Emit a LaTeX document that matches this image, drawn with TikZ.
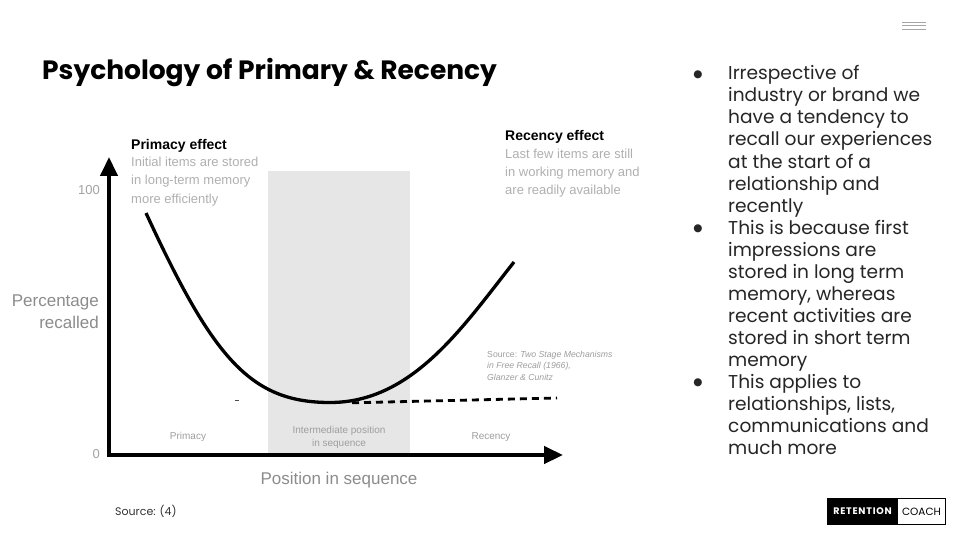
\documentclass[tikz,border=0pt]{standalone}
\usepackage{fontspec}
\setmainfont{Poppins}
\newfontfamily\arialf{Liberation Sans}
\newfontfamily\dejavu{DejaVu Sans}
\usetikzlibrary{arrows.meta}
\definecolor{lightgraytxt}{HTML}{B0B0B0}
\definecolor{midgraytxt}{HTML}{8C8C8C}
\definecolor{bandgray}{HTML}{E6E6E6}
\tikzset{
  title/.style={anchor=base west,inner sep=0pt,font=\fontsize{26.5}{30}\bfseries\selectfont},
  bline/.style={anchor=base west,inner sep=0pt,font=\fontsize{18.6}{22}\selectfont,text=black!85},
  bdot/.style={anchor=center,inner sep=0pt,font=\dejavu\fontsize{10.5}{22}\selectfont,text=black!85},
  head/.style={anchor=base west,inner sep=0pt,font=\arialf\bfseries\fontsize{14}{18}\selectfont},
  desc/.style={anchor=base west,inner sep=0pt,font=\arialf\fontsize{13}{18}\selectfont,text=lightgraytxt},
  axlab/.style={inner sep=0pt,font=\arialf\fontsize{17}{22}\selectfont,text=midgraytxt},
  ticklab/.style={anchor=base east,inner sep=0pt,font=\arialf\fontsize{13}{16}\selectfont,text=midgraytxt!80},
  zone/.style={anchor=base,inner sep=0pt,font=\arialf\fontsize{10}{13}\selectfont,text=lightgraytxt!90!black},
  srcnote/.style={anchor=base west,inner sep=0pt,font=\arialf\fontsize{8.7}{11.5}\selectfont,text=lightgraytxt!90!black},
  axis/.style={line width=4.5pt,-{Triangle[length=19pt,width=17pt]}},
  curve/.style={line width=3.3pt},
  dashcurve/.style={line width=2.8pt,dash pattern=on 7pt off 5pt},
}
\begin{document}
\begin{tikzpicture}[x=1pt,y=-1pt]
\useasboundingbox (0,0) rectangle (960,540);
\fill[white] (0,0) rectangle (960,540);

% hamburger icon
\foreach \yy/\nm in {22.3/h1,25.8/h2,29.3/h3}{
  \coordinate (\nm a) at (902,\yy);
  \coordinate (\nm b) at (926,\yy);
  \draw[gray!70,line width=1pt] (\nm a) -- (\nm b);
}

% title
\node[title] (title) at (42,80) {Psychology of Primary \& Recency};

% bullets
\foreach \yy/\nm in {74.7/d1,228.7/d2,382.7/d3}{
  \node[bdot] (\nm) at (698,\yy) {●};
}
\foreach \txt [count=\i] in {Irrespective of,industry or brand we,have a tendency to,recall our experiences,at the start of a,relationship and,recently,This is because first,impressions are,stored in long term,{memory, whereas},recent activities are,stored in short term,memory,This applies to,{relationships, lists,},communications and,much more}{
  \node[bline] (b\i) at (728,{80+22*(\i-1)}) {\txt};
}

% chart: band
\fill[bandgray] (268,171) rectangle (410,453);

% axes
\coordinate (o) at (109,457.2);
\coordinate (ytip) at (109,157);
\coordinate (o2) at (106.8,455);
\coordinate (xtip) at (563,455);
\draw[axis] (o) -- (ytip);
\draw[axis] (o2) -- (xtip);

% axis labels
\node[ticklab] (t100) at (100,194) {100};
\node[ticklab] (t0) at (100,458) {0};
\node[axlab,anchor=base east] (pl1) at (99,306) {Percentage};
\node[axlab,anchor=base east] (pl2) at (99,328) {recalled};
\node[axlab,anchor=base] (xl) at (339,484) {Position in sequence};

% headings
\node[head] (ph) at (131,150) {Primacy effect};
\node[desc] (pd1) at (131,167) {Initial items are stored};
\node[desc] (pd2) at (131,185) {in long-term memory};
\node[desc] (pd3) at (131,203) {more efficiently};
\node[head] (rh) at (505,141) {Recency effect};
\node[desc] (rd1) at (505,159) {Last few items are still};
\node[desc] (rd2) at (505,177) {in working memory and};
\node[desc] (rd3) at (505,194) {are readily available};

% curve
\coordinate (cs) at (146,213);
\coordinate (cm) at (330,402.5);
\coordinate (ce) at (514,262);
\coordinate (ds) at (352,402.8);
\coordinate (de) at (557,398);
\draw[curve] (cs) .. controls (213,358) and (250,402.5) .. (cm)
  .. controls (412,402.5) and (462,328) .. (ce);
\draw[dashcurve] (ds) -- (de);
\coordinate (sm1) at (234.5,400.8);
\coordinate (sm2) at (239,400.8);
\draw[line width=1pt,black!70] (sm1) -- (sm2);

% zone labels
\node[zone] (z1) at (188,439) {Primacy};
\node[zone] (z2) at (339,433) {Intermediate position};
\node[zone] (z3) at (339,446) {in sequence};
\node[zone] (z4) at (491,439) {Recency};

% source note
\node[srcnote] (s1) at (487,357) {Source: \textit{Two Stage Mechanisms}};
\node[srcnote] (s2) at (487,368.5) {\textit{in Free Recall (1966),}};
\node[srcnote] (s3) at (487,380) {\textit{Glanzer \& Cunitz}};

% source
\node[anchor=base west,inner sep=0pt,font=\fontsize{11}{13}\selectfont,text=black!80] (src) at (115,515) {Source: (4)};

% logo
\draw[line width=1pt,black] (827,498) rectangle (945,524);
\fill[black] (827,498) rectangle (898,524);
\node[anchor=center,inner sep=0pt,text=white,font=\fontsize{9.5}{11}\bfseries\selectfont] (lg1) at (862.5,511.5) {\addfontfeature{LetterSpace=8}RETENTION};
\node[anchor=center,inner sep=0pt,text=black,font=\fontsize{10.5}{12}\selectfont] (lg2) at (921.5,511.5) {COACH};
\end{tikzpicture}
\end{document}
